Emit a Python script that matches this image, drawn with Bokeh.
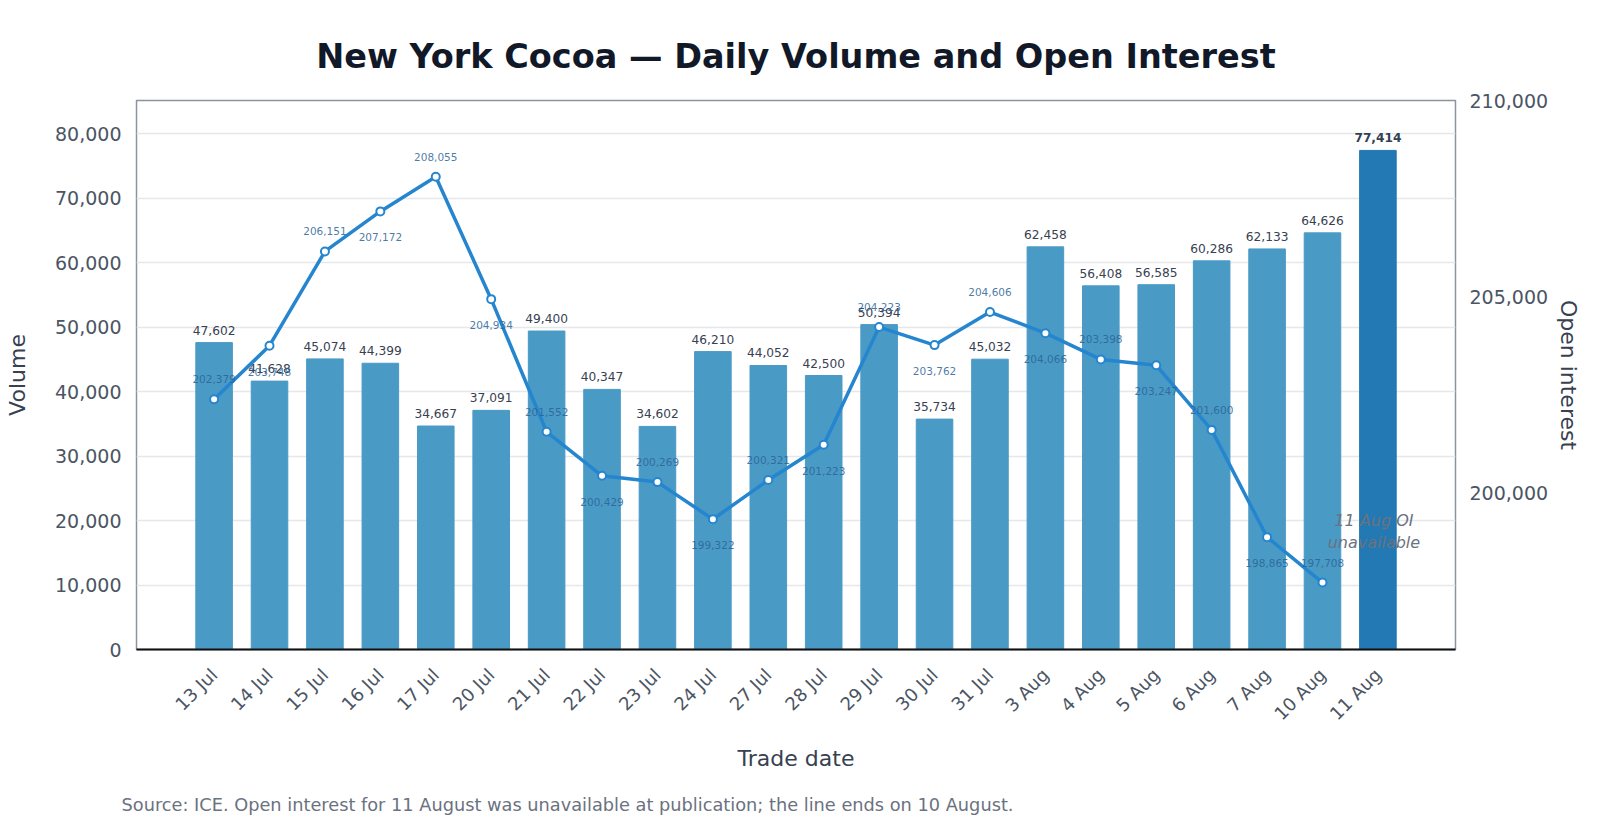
from math import pi
from bokeh.plotting import figure
from bokeh.models import (ColumnDataSource, FactorRange, Range1d, LinearAxis,
                          SingleIntervalTicker, NumeralTickFormatter, Title)
from bokeh.core.properties import value
from bokeh.embed import file_html
from bokeh.resources import INLINE

# ---- data ----
dates = ["13 Jul", "14 Jul", "15 Jul", "16 Jul", "17 Jul", "20 Jul", "21 Jul",
         "22 Jul", "23 Jul", "24 Jul", "27 Jul", "28 Jul", "29 Jul", "30 Jul",
         "31 Jul", "3 Aug", "4 Aug", "5 Aug", "6 Aug", "7 Aug", "10 Aug", "11 Aug"]
volume = [47602, 41628, 45074, 44399, 34667, 37091, 49400, 40347, 34602, 46210,
          44052, 42500, 50394, 35734, 45032, 62458, 56408, 56585, 60286, 62133,
          64626, 77414]
open_interest = [202379, 203748, 206151, 207172, 208055, 204934, 201552, 200429,
                 200269, 199322, 200321, 201223, 204223, 203762, 204606, 204066,
                 203398, 203247, 201600, 198865, 197708, None]
oi_range = (196000, 210000)
note_text = "11 Aug OI\nunavailable"
note_date = "11 Aug"
note_oi = 199000
title_text = "New York Cocoa \u2014 Daily Volume and Open Interest"
source_text = ("Source: ICE. Open interest for 11 August was unavailable at "
               "publication; the line ends on 10 August.")

FONT = "DejaVu Sans"
BAR = "#4a9ac6"
BAR_HI = "#2279b3"
LINE = "#2586cf"

n = len(dates)

oi_dates = [d for d, o in zip(dates, open_interest) if o is not None]
oi_vals = [o for o in open_interest if o is not None]
oi_src = ColumnDataSource(dict(date=oi_dates, oi=oi_vals))


def sub(idx):
    return ColumnDataSource(dict(
        date=[oi_dates[i] for i in idx], oi=[oi_vals[i] for i in idx],
        label=[f"{oi_vals[i]:,}" for i in idx]))


above_src = sub([i for i in range(len(oi_vals)) if i % 2 == 0])
below_src = sub([i for i in range(len(oi_vals)) if i % 2 == 1])

p = figure(width=1584, height=816, output_backend="svg", toolbar_location=None,
           x_range=FactorRange(factors=dates, range_padding=0.9,
                               range_padding_units="absolute"),
           y_range=Range1d(0, max(volume) * 1.1),
           min_border_left=136, min_border_right=100,
           min_border_top=100, min_border_bottom=166)
p.extra_y_ranges = {"oi": Range1d(*oi_range)}

p.title = Title(text=title_text, align="center", text_font=FONT,
                text_font_size="33.5px", text_font_style="bold",
                text_color="#111827", standoff=50)

p.outline_line_color = "#8a939e"
p.outline_line_width = 1.5
p.background_fill_color = "white"
p.border_fill_color = "white"

# bars
bar_src = ColumnDataSource(dict(date=dates, vol=volume,
                                color=[BAR] * (n - 1) + [BAR_HI]))
p.vbar(x="date", top="vol", width=0.66, source=bar_src, fill_color="color",
       line_color="color")
p.text(x="date", y="vol", text="label", source=ColumnDataSource(dict(
    date=dates[:-1], vol=volume[:-1], label=[f"{v:,}" for v in volume[:-1]])),
       text_align="center", text_baseline="bottom", y_offset=-8,
       text_font=value(FONT), text_font_size="12.2px", text_color="#374151")
p.text(x="date", y="vol", text="label", source=ColumnDataSource(dict(
    date=dates[-1:], vol=volume[-1:], label=[f"{v:,}" for v in volume[-1:]])),
       text_align="center", text_baseline="bottom", y_offset=-8,
       text_font=value(FONT), text_font_size="12.2px", text_font_style="bold",
       text_color="#334155")

# open interest line
p.line(x="date", y="oi", source=oi_src, y_range_name="oi", line_color=LINE,
       line_width=3.5)
p.scatter(x="date", y="oi", source=oi_src, y_range_name="oi", size=8,
          fill_color="white", line_color=LINE, line_width=2)
p.text(x="date", y="oi", text="label", source=above_src, y_range_name="oi",
       text_align="center", text_baseline="bottom", y_offset=-16,
       text_font=value(FONT), text_font_size="10.5px", text_color="#2b6496",
       text_alpha=0.85)
p.text(x="date", y="oi", text="label", source=below_src, y_range_name="oi",
       text_align="center", text_baseline="top", y_offset=22,
       text_font=value(FONT), text_font_size="10.5px", text_color="#2b6496",
       text_alpha=0.85)

# note
p.text(x=[note_date], y=[note_oi], text=[note_text], y_range_name="oi",
       text_align="center", text_baseline="middle", x_offset=-4,
       text_font=value(FONT), text_font_size="16px", text_font_style="italic",
       text_color="#6b7280", text_line_height=1.15)

# axes
p.xgrid.grid_line_color = None
p.ygrid.grid_line_color = "#e5e7eb"
p.ygrid.grid_line_width = 1.5
p.ygrid.ticker = SingleIntervalTicker(interval=10000)

yl = p.yaxis[0]
yl.ticker = SingleIntervalTicker(interval=10000)
yl.formatter = NumeralTickFormatter(format="0,0")
yl.axis_label = "Volume"
yr = LinearAxis(y_range_name="oi", ticker=SingleIntervalTicker(interval=5000),
                formatter=NumeralTickFormatter(format="0,0"),
                axis_label="Open interest")
p.add_layout(yr, "right")

for ax in (yl, yr):
    ax.axis_line_color = None
    ax.major_tick_line_color = None
    ax.minor_tick_line_color = None
    ax.major_tick_out = 0
    ax.major_tick_in = 0
    ax.minor_tick_out = 0
    ax.major_label_text_font = FONT
    ax.major_label_text_font_size = "19px"
    ax.major_label_text_color = "#4b5563"
    ax.axis_label_text_font = FONT
    ax.axis_label_text_font_size = "22px"
    ax.axis_label_text_font_style = "normal"
    ax.axis_label_text_color = "#374151"
yl.major_label_standoff = 15
yl.axis_label_standoff = 22
yr.major_label_standoff = 14
yr.axis_label_standoff = 5

xa = p.xaxis[0]
xa.axis_label = "Trade date"
xa.axis_line_color = "#111111"
xa.axis_line_width = 2
xa.major_tick_line_color = None
xa.minor_tick_line_color = None
xa.major_tick_out = 0
xa.major_tick_in = 0
xa.minor_tick_out = 0
xa.major_label_orientation = pi / 4
xa.major_label_standoff = 22
xa.major_label_text_font = FONT
xa.major_label_text_font_size = "18px"
xa.major_label_text_color = "#4b5563"
xa.axis_label_text_font = FONT
xa.axis_label_text_font_size = "22px"
xa.axis_label_text_font_style = "normal"
xa.axis_label_text_color = "#374151"
xa.axis_label_standoff = 12

# spacer between the axis label and the source note
p.add_layout(Title(text=" ", text_font=FONT, text_font_size="2px",
                   standoff=16), "below")
p.add_layout(Title(text=source_text, align="left", offset=-15,
                   vertical_align="top", text_font=FONT,
                   text_font_size="17.75px", text_font_style="normal",
                   text_color="#6b7280", standoff=0), "below")

open("out.html", "w").write(file_html(p, INLINE))
